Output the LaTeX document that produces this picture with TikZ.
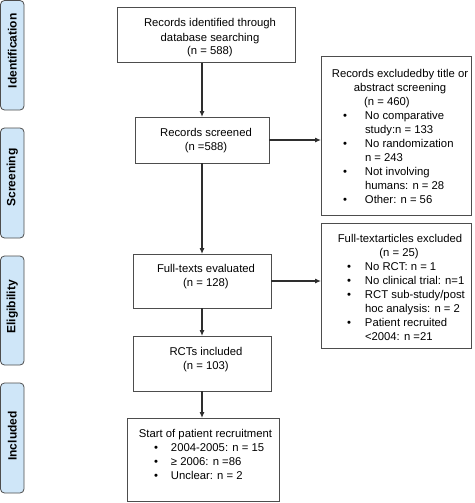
\documentclass[tikz,border=0pt]{standalone}
\usepackage{fontspec}
\setmainfont{Liberation Sans}
\usetikzlibrary{arrows.meta}
\definecolor{tabfill}{HTML}{CFE6F8}
\definecolor{edgec}{HTML}{4D4D4D}
\definecolor{arrowc}{HTML}{2E2E2E}
\newcommand{\fstrut}{\rule{0pt}{10pt}}
\newcommand{\bodyfont}{\fontsize{11.3}{14}\selectfont}
% centred line: left offset, right offset, text
\newcommand{\ctrline}[3]{\leftskip=#1 plus 1fil\rightskip=#2 plus 1fil\parfillskip=0pt\noindent\fstrut #3\par}
\newcommand{\cl}[1]{\ctrline{8pt}{0pt}{#1}}
% bullet item: gap between bullet and text, text
\newcommand{\bitem}[2]{\leftskip=44pt\rightskip=0pt plus 1fil\parfillskip=0pt plus 1fil\noindent\llap{\textbullet\hspace{#1}}\fstrut #2\par}
\newcommand{\boxbody}[4]{\begin{minipage}[c][#2][t]{#1}\bodyfont\vspace*{#3}#4\end{minipage}}
\begin{document}
\begin{tikzpicture}[x=1pt,y=-1pt,
  box/.style={draw=edgec, line width=1pt, inner sep=0pt, outer sep=0pt},
  tab/.style={draw=edgec, fill=tabfill, line width=0.8pt, rounded corners=4pt, rotate=90,
    minimum height=23.5pt, inner sep=0pt, font=\fontsize{12}{14}\selectfont\bfseries},
  arr/.style={draw=arrowc, line width=1.1pt, -{Latex[length=6pt,width=5pt]}}]
\useasboundingbox (0,0) rectangle (474,503);

% phase tabs
\node[tab, minimum width=109.5pt] (T1) at (12.25,55.25) {\hspace*{9pt}Identification};
\node[tab, minimum width=110pt] (T2) at (12.25,183) {\hspace*{11pt}Screening};
\node[tab, minimum width=109pt] (T3) at (12.25,310.5) {\hspace*{7pt}Eligibility};
\node[tab, minimum width=110pt] (T4) at (12.25,438) {\hspace*{4pt}Included};

% main column
\node[box] (B1) at (206,35.5) {\boxbody{178pt}{55pt}{9pt}{%
  \cl{Records identified through}\cl{database searching}\cl{(n = 588)}}};
\node[box] (B2) at (202,140) {\boxbody{134pt}{46pt}{9pt}{%
  \cl{Records screened}\cl{(n =588)}}};
\node[box] (B3) at (202,281) {\boxbody{138pt}{54pt}{8pt}{%
  \cl{Full-texts evaluated}\cl{(n = 128)}}};
\node[box] (B4) at (202,363.5) {\boxbody{138pt}{55pt}{9pt}{%
  \cl{RCTs included}\cl{(n = 103)}}};
\node[box] (B5) at (203,459.5) {\boxbody{152pt}{83pt}{9pt}{%
  \ctrline{5pt}{0pt}{Start of patient recruitment}%
  \bitem{13pt}{2004-2005: n = 15}%
  \bitem{13pt}{≥ 2006: n =86}%
  \bitem{13pt}{Unclear: n = 2}}};

% exclusion boxes
\node[box] (R1) at (396,136) {\boxbody{150pt}{158pt}{10pt}{%
  \cl{Records excludedby title or}\cl{abstract screening}%
  \ctrline{0pt}{18pt}{(n = 460)}%
  \bitem{18pt}{No comparative\\study:n = 133}%
  \bitem{18pt}{No randomization\\n = 243}%
  \bitem{18pt}{Not involving\\humans: n = 28}%
  \bitem{18pt}{Other: n = 56}}};
\node[box] (R2) at (396,285.5) {\boxbody{150pt}{125pt}{9pt}{%
  \cl{Full-textarticles excluded}%
  \ctrline{6pt}{0pt}{(n = 25)}%
  \bitem{14pt}{No RCT: n = 1}%
  \bitem{14pt}{No clinical trial: n=1}%
  \bitem{14pt}{RCT sub-study/post\\hoc analysis: n = 2}%
  \bitem{14pt}{Patient recruited\\<2004: n =21}}};

% connectors
\draw[arr] (B1.south -| B2.north) -- (B2.north);
\draw[arr] (B2.south) -- (B3.north);
\draw[arr] (B3.south) -- (B4.north);
\draw[arr] (B4.south) -- (B4.south |- B5.north);
\draw[arr] (B2.east) -- (B2.east -| R1.west);
\draw[arr] (B3.east) -- (B3.east -| R2.west);
\end{tikzpicture}
\end{document}
